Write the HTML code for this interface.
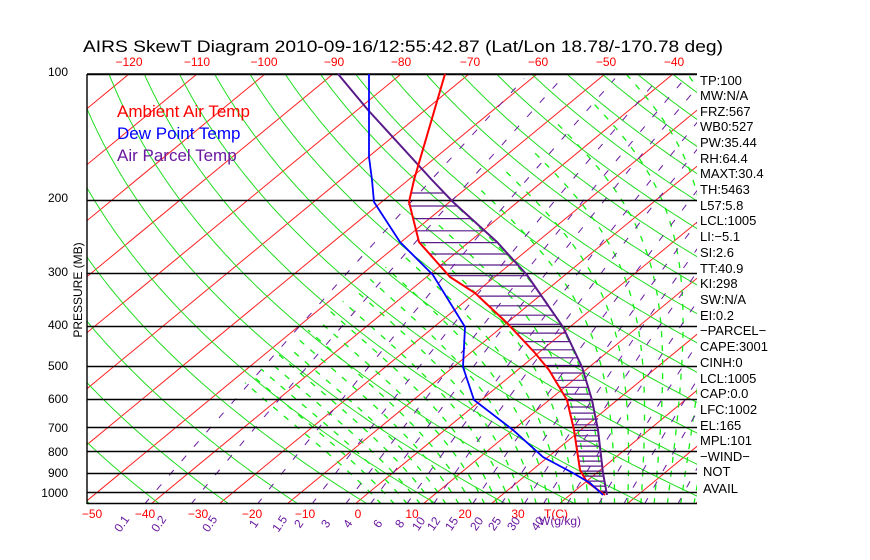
<!DOCTYPE html>
<html><head><meta charset="utf-8"><style>
html,body{margin:0;padding:0;background:#fff;}
svg{display:block;font-family:"Liberation Sans",sans-serif;}
</style></head><body>
<svg id="s" width="870" height="560" viewBox="0 0 870 560" xmlns="http://www.w3.org/2000/svg">
<rect width="870" height="560" fill="#fff"/>
<defs><clipPath id="c"><rect x="87" y="74" width="610" height="429"/></clipPath></defs>
<g id="bg" clip-path="url(#c)"></g>
<g id="fg"></g>
<g font-size="17" fill="#000"><text x="83" y="52" textLength="640" lengthAdjust="spacingAndGlyphs">AIRS SkewT Diagram 2010-09-16/12:55:42.87 (Lat/Lon 18.78/-170.78 deg)</text></g>
<g font-size="12" fill="#f00" text-anchor="middle">
<text x="129" y="66">−120</text><text x="197" y="66">−110</text><text x="264" y="66">−100</text><text x="334" y="66">−90</text><text x="401" y="66">−80</text><text x="470" y="66">−70</text><text x="538" y="66">−60</text><text x="606" y="66">−50</text><text x="674" y="66">−40</text>
<text x="92" y="518">−50</text><text x="145" y="518">−40</text><text x="198" y="518">−30</text><text x="252" y="518">−20</text><text x="305" y="518">−10</text><text x="358" y="518">0</text><text x="412" y="518">10</text><text x="465" y="518">20</text><text x="518" y="518">30</text><text x="556" y="518">T(C)</text>
</g>
<g font-size="12" fill="#6a1aa0" text-anchor="middle">
<text transform="translate(125,526) rotate(-55)">0.1</text><text transform="translate(162,526) rotate(-55)">0.2</text><text transform="translate(213,526) rotate(-55)">0.5</text><text transform="translate(257,526) rotate(-55)">1</text><text transform="translate(283,526) rotate(-55)">1.5</text><text transform="translate(302,526) rotate(-55)">2</text><text transform="translate(329,526) rotate(-55)">3</text><text transform="translate(351,526) rotate(-55)">4</text><text transform="translate(381,526) rotate(-55)">6</text><text transform="translate(403,526) rotate(-55)">8</text><text transform="translate(422,526) rotate(-55)">10</text><text transform="translate(437,526) rotate(-55)">12</text><text transform="translate(455,526) rotate(-55)">15</text><text transform="translate(480,526) rotate(-55)">20</text><text transform="translate(498,526) rotate(-55)">25</text><text transform="translate(517,526) rotate(-55)">30</text><text transform="translate(541,526) rotate(-55)">40</text>
<text x="560" y="525">W(g/kg)</text>
</g>
<g font-size="17" text-anchor="start">
<text x="117" y="117" fill="#f00">Ambient Air Temp</text>
<text x="117" y="139" fill="#00f">Dew Point Temp</text>
<text x="117" y="161" fill="#6a1aa0">Air Parcel Temp</text>
</g>
<g font-size="12" fill="#000" text-anchor="end">
<text x="68" y="76">100</text><text x="68" y="202">200</text><text x="68" y="276">300</text><text x="68" y="329">400</text><text x="68" y="370">500</text><text x="68" y="403">600</text><text x="68" y="432">700</text><text x="68" y="456">800</text><text x="68" y="477">900</text><text x="68" y="497">1000</text>
</g>
<text transform="translate(82,290) rotate(-90)" font-size="12" text-anchor="middle" fill="#000">PRESSURE (MB)</text>
<g font-size="13" fill="#000">
<text x="700" y="85">TP:100</text><text x="700" y="100">MW:N/A</text><text x="700" y="116">FRZ:567</text><text x="700" y="131">WB0:527</text><text x="700" y="147">PW:35.44</text><text x="700" y="163">RH:64.4</text><text x="700" y="178">MAXT:30.4</text><text x="700" y="194">TH:5463</text><text x="700" y="210">L57:5.8</text><text x="700" y="225">LCL:1005</text><text x="700" y="241">LI:−5.1</text><text x="700" y="257">SI:2.6</text><text x="700" y="273">TT:40.9</text><text x="700" y="288">KI:298</text><text x="700" y="304">SW:N/A</text><text x="700" y="320">EI:0.2</text><text x="700" y="335">−PARCEL−</text><text x="700" y="351">CAPE:3001</text><text x="700" y="367">CINH:0</text><text x="700" y="383">LCL:1005</text><text x="700" y="398">CAP:0.0</text><text x="700" y="414">LFC:1002</text><text x="700" y="430">EL:165</text><text x="700" y="445">MPL:101</text><text x="700" y="461">−WIND−</text><text x="703" y="476">NOT</text><text x="703" y="493">AVAIL</text>
</g>
</svg>
<script>
(function(){
var NS="http://www.w3.org/2000/svg";
var bg=document.getElementById('bg'),fg=document.getElementById('fg');
function Yp(p){return 74+181.5*Math.log(p/100);}
function X(T,y){return 673+6.8*(T+40)-1.214*(y-74);}
function path(g,d,st,w,da){var e=document.createElementNS(NS,'path');e.setAttribute('d',d);e.setAttribute('fill','none');e.setAttribute('stroke',st);e.setAttribute('stroke-width',w);if(da)e.setAttribute('stroke-dasharray',da);g.appendChild(e);}
function pts(a){return 'M'+a.map(function(q){return q[0].toFixed(1)+','+q[1].toFixed(1)}).join('L');}
var ps=[];for(var p=1070;p>=95;p*=0.98)ps.push(p);
for(var T=-170;T<=50;T+=10){path(bg,pts([[X(T,503),503],[X(T,74),74]]),'#ff2020',1);}
for(var th=200;th<=480;th+=10){var a=ps.map(function(p){var y=Yp(p);return [X(th*Math.pow(p/1000,0.2857)-273.15,y),y]});path(bg,pts(a),'#22dd22',1);}
function es(tc){return 6.112*Math.exp(17.67*tc/(tc+243.5));}
function moist(T0){function run(dir){var T=T0+273.15,p=1000,res=[];while(dir<0?p>100:p<1070){var tc=T-273.15,e=es(tc),rs=0.622*e/(p-e);var dTdp=(287*T+2.5e6*rs)/(1005+2.5e6*2.5e6*rs*0.622/(287*T*T))/p;var dp=dir*2;T+=dTdp*dp;p+=dp;if(T-273.15<-48)break;res.push([p,T-273.15]);}return res;}
var up=run(-1),dn=run(1);dn.reverse();var all=dn.concat([[1000,T0]]).concat(up);return all.map(function(q){var y=Yp(q[0]);return [X(q[1],y),y]});}
for(var T0=-10;T0<=40;T0+=2){path(bg,pts(moist(T0)),'#11ee11',1.3,'6 8');}
var ws=[0.1,0.2,0.5,1,1.5,2,3,4,6,8,10,12,15,20,25,30,40];
ws.forEach(function(w){var a=[];for(var p=1070;p>=100;p*=0.97){var e=w/1000*p/(0.622+w/1000),l=Math.log(e/6.112),tc=243.5*l/(17.67-l),y=Yp(p);a.push([X(tc,y),y]);}path(bg,pts(a),'#6a1aa0',1,'7 12');});
[100,200,300,400,500,600,700,800,900,1000].forEach(function(p){var y=Math.round(Yp(p))+0.5;path(fg,'M87,'+y+'L697,'+y,'#000',1.4);});
path(fg,'M87,74L697,74M87,503.5L697,503.5M87,74L87,504','#000',1.4);
var red=[[445,74],[414,180],[409,202],[419,242],[450,277],[475,293],[507,323],[535,353],[549,370],[567,400],[574,430],[580,470],[587,482],[605,495]];
var blue=[[369,74],[369,157],[372,180],[374,202],[400,242],[433,275],[465,327],[463,367],[474,400],[513,430],[543,457],[573,473],[590,483],[603,495]];
var par=[[338,74],[368,110],[432,180],[453,202],[497,242],[527,275],[563,327],[582,367],[592,400],[598,430],[603,473],[607,495]];
function at(a,y){for(var i=0;i<a.length-1;i++){if(y>=a[i][1]&&y<=a[i+1][1]){var f=(y-a[i][1])/(a[i+1][1]-a[i][1]);return a[i][0]+f*(a[i+1][0]-a[i][0]);}}return null;}
var h='';var y=193;while(y<495){var x1=at(red,y),x2=at(par,y);if(x1!==null&&x2!==null&&x2>x1)h+='M'+x1.toFixed(1)+','+y.toFixed(1)+'L'+x2.toFixed(1)+','+y.toFixed(1);y+=Math.max(5,13-8*(y-193)/250);}
path(fg,h,'#5a1a8a',1.2);
path(fg,pts(par),'#5a1a8a',2);
path(fg,pts(red),'#ff0000',2);
path(fg,pts(blue),'#0000ff',1.8);
})();
</script>
</body></html>
